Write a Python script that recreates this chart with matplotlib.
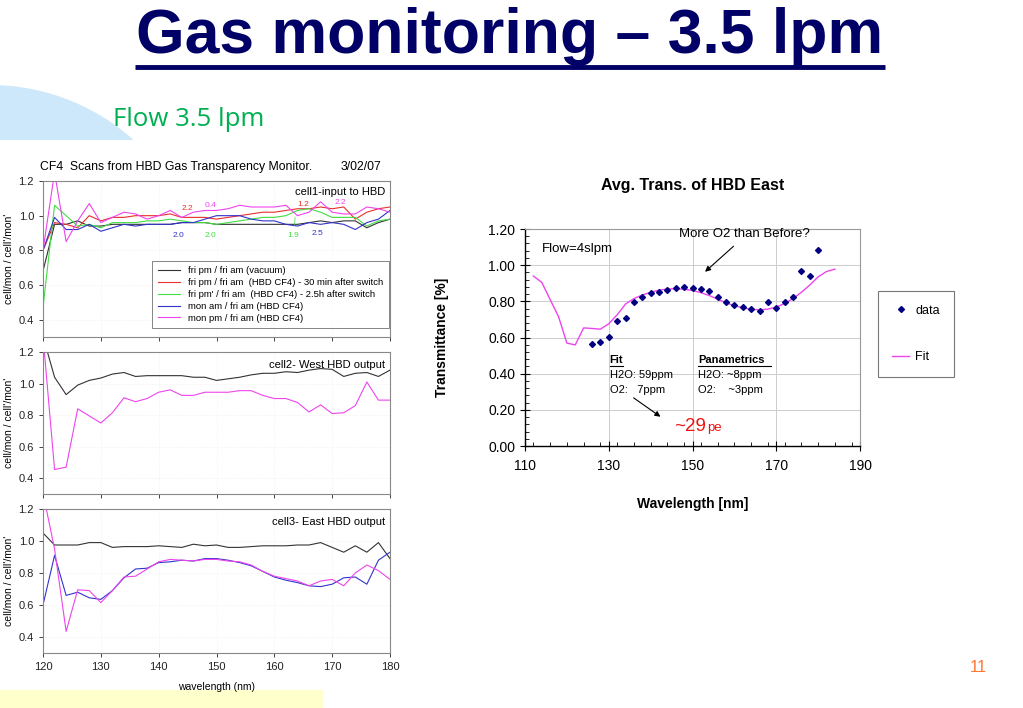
import matplotlib
matplotlib.use("Agg")
import matplotlib.pyplot as plt
from matplotlib.patches import Circle, Rectangle
from matplotlib.lines import Line2D
from matplotlib.ticker import MultipleLocator

plt.rcParams['font.family'] = ['Liberation Sans', 'DejaVu Sans']

# ---- left panels: monitor scans ----
wl = [120, 122, 124, 126, 128, 130, 132, 134, 136, 138, 140, 142, 144, 146, 148, 150,
      152, 154, 156, 158, 160, 162, 164, 166, 168, 170, 172, 174, 176, 178, 180]

c1_vacuum = [0.68, 0.95, 0.95, 0.97, 0.94, 0.94, 0.95, 0.95, 0.95, 0.95, 0.95, 0.95, 0.96, 0.96, 0.96, 0.95,
             0.95, 0.95, 0.95, 0.95, 0.95, 0.95, 0.95, 0.96, 0.97, 0.96, 0.97, 0.97, 0.93, 0.96, 0.98]
c1_30min = [0.80, 0.96, 0.95, 0.93, 1.00, 0.97, 0.99, 0.99, 1.00, 1.00, 1.00, 1.01, 0.99, 0.99, 0.99, 0.98,
            0.99, 1.00, 1.01, 1.02, 1.02, 1.03, 1.04, 1.04, 1.05, 1.04, 1.05, 0.98, 1.02, 1.04, 1.05]
c1_2h = [0.47, 1.06, 1.00, 0.94, 0.95, 0.93, 0.96, 0.96, 0.96, 0.97, 0.97, 0.98, 0.97, 0.96, 0.96, 0.95,
         0.96, 0.97, 0.98, 0.99, 0.99, 1.00, 1.03, 1.04, 1.02, 0.99, 0.99, 0.99, 0.94, 0.97, 0.98]
c1_monam = [0.80, 0.99, 0.92, 0.92, 0.95, 0.91, 0.93, 0.95, 0.94, 0.95, 0.95, 0.95, 0.96, 0.96, 0.98, 1.00,
            1.00, 1.00, 0.98, 0.97, 0.97, 0.95, 0.94, 0.96, 0.95, 0.96, 0.95, 0.92, 0.96, 0.98, 1.03]
c1_monpm = [0.80, 1.25, 0.85, 0.97, 1.07, 0.96, 0.99, 1.02, 1.01, 0.98, 1.00, 1.03, 0.99, 1.02, 1.03, 1.03,
            1.04, 1.06, 1.05, 1.05, 1.05, 1.06, 1.00, 1.02, 1.08, 1.02, 1.01, 1.01, 1.05, 1.04, 1.02]

c2_vacuum = [1.30, 1.04, 0.93, 0.99, 1.02, 1.035, 1.06, 1.07, 1.045, 1.05, 1.05, 1.05, 1.05, 1.04, 1.04, 1.02,
             1.03, 1.04, 1.055, 1.065, 1.065, 1.075, 1.07, 1.085, 1.095, 1.09, 1.045, 1.065, 1.07, 1.045, 1.085]
c2_monpm = [1.30, 0.455, 0.47, 0.84, 0.795, 0.75, 0.815, 0.91, 0.885, 0.905, 0.945, 0.96, 0.925, 0.925, 0.945, 0.945,
            0.945, 0.955, 0.955, 0.925, 0.905, 0.905, 0.88, 0.82, 0.865, 0.81, 0.815, 0.86, 1.01, 0.895, 0.895]

c3_vacuum = [1.05, 0.975, 0.975, 0.975, 0.99, 0.99, 0.96, 0.965, 0.965, 0.965, 0.97, 0.965, 0.96, 0.98, 0.97, 0.975,
             0.96, 0.96, 0.965, 0.97, 0.97, 0.97, 0.975, 0.975, 0.99, 0.96, 0.93, 0.97, 0.93, 0.99, 0.89]
c3_monam = [0.60, 0.91, 0.66, 0.68, 0.645, 0.635, 0.69, 0.77, 0.825, 0.83, 0.865, 0.87, 0.88, 0.875, 0.89, 0.89,
            0.88, 0.865, 0.845, 0.81, 0.775, 0.755, 0.74, 0.72, 0.715, 0.73, 0.77, 0.775, 0.73, 0.88, 0.93]
c3_monpm = [1.30, 0.95, 0.435, 0.695, 0.69, 0.615, 0.69, 0.775, 0.78, 0.825, 0.87, 0.885, 0.88, 0.875, 0.885, 0.885,
            0.875, 0.87, 0.85, 0.81, 0.78, 0.765, 0.75, 0.72, 0.75, 0.76, 0.72, 0.80, 0.85, 0.815, 0.76]

scan_labels = ['fri pm / fri am (vacuum)',
               'fri pm / fri am  (HBD CF4) - 30 min after switch',
               "fri pm' / fri am  (HBD CF4) - 2.5h after switch",
               'mon am / fri am (HBD CF4)',
               'mon pm / fri am (HBD CF4)']

# ---- right chart: average transmittance ----
data_wl = [126, 128, 130, 132, 134, 136, 138, 140, 142, 144, 146, 148, 150, 152,
           154, 156, 158, 160, 162, 164, 166, 168, 170, 172, 174, 176, 178, 180]
data_tr = [0.563, 0.576, 0.605, 0.692, 0.707, 0.794, 0.825, 0.845, 0.851, 0.860, 0.871, 0.877, 0.873, 0.868,
           0.857, 0.823, 0.797, 0.779, 0.770, 0.760, 0.746, 0.794, 0.764, 0.796, 0.823, 0.967, 0.941, 1.082]
fit_wl = [112, 114, 116, 118, 120, 122, 124, 126, 128, 130, 132, 134, 136, 138, 140, 142, 144, 146, 148,
          150, 152, 154, 156, 158, 160, 162, 164, 166, 168, 170, 172, 174, 176, 178, 180, 182, 184]
fit_tr = [0.940, 0.905, 0.810, 0.716, 0.569, 0.559, 0.653, 0.650, 0.646, 0.676, 0.725, 0.785, 0.815, 0.835,
          0.850, 0.862, 0.868, 0.870, 0.867, 0.860, 0.848, 0.832, 0.812, 0.792, 0.776, 0.764, 0.756, 0.753,
          0.757, 0.768, 0.788, 0.815, 0.850, 0.890, 0.935, 0.965, 0.978]

col_k = '#333333'
col_r = '#e8302e'
col_g = '#44dd44'
col_b = '#3333cc'
col_m = '#ee44ee'

W, H = 1023, 708
fig = plt.figure(figsize=(W / 100, H / 100), dpi=100)


def px_axes(x0, y0, x1, y1):
    return fig.add_axes([x0 / W, 1 - y1 / H, (x1 - x0) / W, (y1 - y0) / H])


# slide decorations
deco = fig.add_axes([0, 0, 1, 1], zorder=-5)
deco.set_xlim(0, W)
deco.set_ylim(H, 0)
deco.axis('off')
blob = Circle((-10, 300), 215, color='#cce8fa', lw=0)
deco.add_patch(blob)
blob.set_clip_path(Rectangle((0, 0), W, 140, transform=deco.transData))
deco.add_patch(Rectangle((0, 690), 323, 18, color='#ffffcc', lw=0))

fig.text(510 / W, 1 - 36 / H, 'Gas monitoring \u2013 3.5 lpm', ha='center', va='center',
         fontsize=45, fontweight='bold', color='#000066')
deco.plot([135, 885], [67, 67], color='#000066', lw=3.5, solid_capstyle='butt')
fig.text(113 / W, 1 - 120 / H, 'Flow 3.5 lpm', ha='left', va='center', fontsize=18.5,
         color='#00b050', family=['Open Sans', 'DejaVu Sans'])
fig.text(978 / W, 1 - 668 / H, '11', ha='center', va='center', fontsize=12, color='#ff7733')


def style_left(ax, show_x):
    ax.set_xlim(120, 180)
    ax.set_ylim(0.3, 1.2)
    ax.set_yticks([0.4, 0.6, 0.8, 1.0, 1.2])
    ax.set_xticks([120, 130, 140, 150, 160, 170, 180])
    ax.tick_params(labelsize=8, length=3, width=0.6, colors='#222222')
    if not show_x:
        ax.set_xticklabels([])
    ax.set_ylabel("cell/mon / cell'/mon'", fontsize=7.5, labelpad=3)
    ax.grid(True, color='#ececec', lw=0.5, ls=':')
    for s in ax.spines.values():
        s.set_color('#888888')
        s.set_linewidth(0.8)


ax1 = px_axes(43, 181, 390, 337)
ax1.plot(wl, c1_vacuum, color=col_k, lw=0.8, label=scan_labels[0])
ax1.plot(wl, c1_30min, color=col_r, lw=0.8, label=scan_labels[1])
ax1.plot(wl, c1_2h, color=col_g, lw=0.8, label=scan_labels[2])
ax1.plot(wl, c1_monam, color=col_b, lw=0.8, label=scan_labels[3])
ax1.plot(wl, c1_monpm, color=col_m, lw=0.8, label=scan_labels[4])
style_left(ax1, False)
ax1.text(-0.01, 1.09, 'CF4  Scans from HBD Gas Transparency Monitor.', transform=ax1.transAxes,
         ha='left', va='center', fontsize=8.8)
ax1.text(0.975, 1.09, '3/02/07', transform=ax1.transAxes, ha='right', va='center', fontsize=8.8)
ax1.text(0.985, 0.93, 'cell1-input to HBD', transform=ax1.transAxes, ha='right', va='center', fontsize=8)
leg1 = ax1.legend(loc='lower right', bbox_to_anchor=(0.997, 0.055), fontsize=6.8, frameon=True,
                  fancybox=False, edgecolor='#666666', handlelength=2.4, labelspacing=0.3,
                  borderaxespad=0, borderpad=0.6)
leg1.get_frame().set_linewidth(0.7)
for txt, x, y, c in [('2.2', 145, 1.04, col_r), ('0.4', 149, 1.06, col_m), ('1.2', 165, 1.065, col_r),
                     ('2.2', 171.5, 1.075, col_m), ('2.0', 143.5, 0.885, col_b), ('2.0', 149, 0.885, col_g),
                     ('2.5', 167.5, 0.895, col_b)]:
    ax1.text(x, y, txt, color=c, fontsize=6, ha='center', va='center')
ax1.annotate('1.9', xy=(163.6, 0.99), xytext=(163.3, 0.885), color=col_g, fontsize=6,
             ha='center', va='center', arrowprops=dict(arrowstyle='-', color=col_g, lw=0.5, shrinkA=3, shrinkB=0))

ax2 = px_axes(43, 352, 390, 494)
ax2.plot(wl, c2_vacuum, color=col_k, lw=0.8)
ax2.plot(wl, c2_monpm, color=col_m, lw=0.8)
style_left(ax2, False)
ax2.text(0.985, 0.91, 'cell2- West HBD output', transform=ax2.transAxes, ha='right', va='center', fontsize=8)

ax3 = px_axes(43, 509, 390, 653)
ax3.plot(wl, c3_vacuum, color=col_k, lw=0.8)
ax3.plot(wl, c3_monam, color=col_b, lw=0.8)
ax3.plot(wl, c3_monpm, color=col_m, lw=0.8)
style_left(ax3, True)
ax3.set_xlabel('wavelength (nm)', fontsize=7.5, labelpad=7)
ax3.text(0.985, 0.91, 'cell3- East HBD output', transform=ax3.transAxes, ha='right', va='center', fontsize=8)

# right chart
ax4 = px_axes(525, 229, 860, 446)
ax4.plot(fit_wl, fit_tr, color=col_m, lw=1.0, zorder=3)
ax4.plot(data_wl, data_tr, 'D', color='#000080', ms=3.0, zorder=4)
ax4.set_xlim(110, 190)
ax4.set_ylim(0, 1.2)
ax4.set_xticks([110, 130, 150, 170, 190])
ax4.set_yticks([0.0, 0.2, 0.4, 0.6, 0.8, 1.0, 1.2])
ax4.set_yticklabels(['%.2f' % v for v in ax4.get_yticks()])
ax4.xaxis.set_minor_locator(MultipleLocator(4))
ax4.yaxis.set_minor_locator(MultipleLocator(0.04))
ax4.tick_params(which='major', direction='inout', length=7, width=0.8, labelsize=10)
ax4.tick_params(which='minor', direction='in', length=3, width=0.6)
ax4.tick_params(axis='x', pad=6)
ax4.grid(True, which='major', color='#cccccc', lw=0.7)
ax4.set_axisbelow(True)
for side in ('top', 'right'):
    ax4.spines[side].set_color('#999999')
    ax4.spines[side].set_linewidth(0.8)
for side in ('left', 'bottom'):
    ax4.spines[side].set_color('black')
    ax4.spines[side].set_linewidth(1.0)
ax4.set_title('Avg. Trans. of HBD East', fontsize=11.5, fontweight='bold', pad=28)
ax4.set_xlabel('Wavelength [nm]', fontsize=10, fontweight='bold', labelpad=17)
ax4.set_ylabel('Transmittance [%]', fontsize=10, fontweight='bold', labelpad=28)

ax4.text(114, 1.09, 'Flow=4slpm', fontsize=9.5, ha='left', va='center')
ax4.text(146.8, 1.17, 'More O2 than Before?', fontsize=9.5, ha='left', va='center')
ax4.annotate('', xy=(152.5, 0.953), xytext=(160.3, 1.115),
             arrowprops=dict(arrowstyle='-|>', color='black', lw=0.8, mutation_scale=8))
ax4.text(130.2, 0.474, 'Fit', fontsize=8, fontweight='bold', ha='left', va='center')
ax4.plot([130.2, 133.5], [0.445, 0.445], color='black', lw=0.8)
ax4.text(130.2, 0.393, 'H2O: 59ppm', fontsize=8, ha='left', va='center')
ax4.text(130.2, 0.310, 'O2:   7ppm', fontsize=8, ha='left', va='center')
ax4.text(151.3, 0.474, 'Panametrics', fontsize=8, fontweight='bold', ha='left', va='center')
ax4.plot([151.3, 168.8], [0.445, 0.445], color='black', lw=0.8)
ax4.text(151.3, 0.393, 'H2O: ~8ppm', fontsize=8, ha='left', va='center')
ax4.text(151.3, 0.310, 'O2:    ~3ppm', fontsize=8, ha='left', va='center')
ax4.annotate('', xy=(142.9, 0.153), xytext=(135.4, 0.275),
             arrowprops=dict(arrowstyle='-|>', color='black', lw=0.8, mutation_scale=8))
ax4.text(145.6, 0.11, '~29', fontsize=13.5, color='#ee1111', ha='left', va='center')
ax4.text(153.4, 0.098, 'pe', fontsize=9.5, color='#ee1111', ha='left', va='center')

handles = [Line2D([], [], marker='D', ls='none', color='#000080', ms=3.0),
           Line2D([], [], color=col_m, lw=1.0)]
leg4 = fig.legend(handles, ['data', 'Fit'], loc='upper left', bbox_to_anchor=(878 / W, 1 - 291 / H),
                  fontsize=9, frameon=True, fancybox=False, edgecolor='#555555', labelspacing=2.75,
                  handlelength=1.4, handletextpad=0.5, borderpad=1.1, borderaxespad=0)
leg4.get_frame().set_linewidth(0.8)

fig.savefig('out.png', dpi=100)
